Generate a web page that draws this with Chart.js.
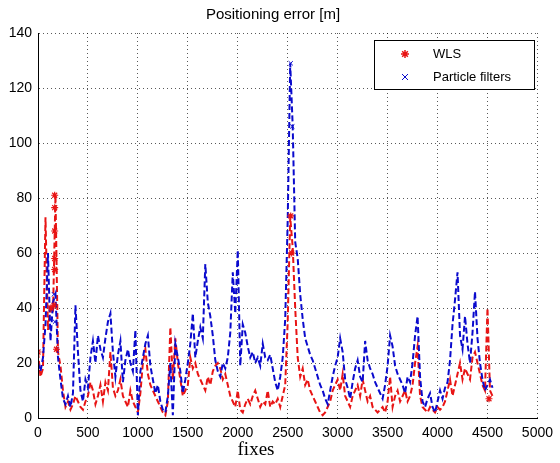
<!DOCTYPE html>
<html>
<head>
<meta charset="utf-8">
<script src="https://cdn.jsdelivr.net/npm/chart.js@4"></script>
<style>
  html, body { margin: 0; padding: 0; background: #fff; }
  #wrap { width: 560px; height: 463px; }
</style>
</head>
<body>
<div id="wrap"><canvas id="chart" width="560" height="463"></canvas></div>
<script>
// fixes sampled every 25
const fixes = [
    0, 25, 50, 75, 100, 125, 150, 175, 200, 225, 250, 275, 300, 325, 350, 375, 400, 425, 450, 475,
    500, 525, 550, 575, 600, 625, 650, 675, 700, 725, 750, 775, 800, 825, 850, 875, 900, 925, 950, 975,
    1000, 1025, 1050, 1075, 1100, 1125, 1150, 1175, 1200, 1225, 1250, 1275, 1300, 1325, 1350, 1375, 1400, 1425, 1450, 1475,
    1500, 1525, 1550, 1575, 1600, 1625, 1650, 1675, 1700, 1725, 1750, 1775, 1800, 1825, 1850, 1875, 1900, 1925, 1950, 1975,
    2000, 2025, 2050, 2075, 2100, 2125, 2150, 2175, 2200, 2225, 2250, 2275, 2300, 2325, 2350, 2375, 2400, 2425, 2450, 2475,
    2500, 2525, 2550, 2575, 2600, 2625, 2650, 2675, 2700, 2725, 2750, 2775, 2800, 2825, 2850, 2875, 2900, 2925, 2950, 2975,
    3000, 3025, 3050, 3075, 3100, 3125, 3150, 3175, 3200, 3225, 3250, 3275, 3300, 3325, 3350, 3375, 3400, 3425, 3450, 3475,
    3500, 3525, 3550, 3575, 3600, 3625, 3650, 3675, 3700, 3725, 3750, 3775, 3800, 3825, 3850, 3875, 3900, 3925, 3950, 3975,
    4000, 4025, 4050, 4075, 4100, 4125, 4150, 4175, 4200, 4225, 4250, 4275, 4300, 4325, 4350, 4375, 4400, 4425, 4450, 4475,
    4500, 4525, 4550
];

// WLS positioning error [m]
const wls = [
    24, 15, 18, 73, 32, 41, 38, 81, 24, 19, 10, 4, 6, 3, 5, 8, 6, 4, 3, 6,
    8, 13, 10, 5, 8, 12, 6, 13, 10, 24, 11, 8, 10, 14, 8, 6, 4, 10, 6, 4,
    2, 9, 20, 25, 16, 12, 10, 8, 6, 4, 2, 1, 6, 33, 14, 29, 20, 14, 8, 10,
    12, 22, 18, 20, 16, 14, 12, 10, 15, 12, 17, 19, 20, 18, 14, 16, 12, 8, 6, 4,
    10, 3, 2, 5, 7, 5, 8, 10, 7, 4, 6, 5, 10, 4, 6, 5, 7, 4, 8, 12,
    35, 73, 62, 40, 22, 15, 18, 12, 14, 10, 8, 6, 4, 2, 1, 2, 4, 6, 10, 12,
    14, 10, 16, 8, 6, 4, 8, 10, 12, 8, 14, 10, 6, 8, 4, 3, 2, 3, 4, 2,
    6, 15, 4, 8, 10, 6, 8, 10, 6, 8, 12, 20, 26, 8, 4, 3, 2, 4, 3, 2,
    4, 3, 4, 6, 10, 14, 8, 12, 16, 20, 14, 18, 16, 14, 22, 24, 20, 16, 12, 10,
    40, 10, 8
];

// Particle filters positioning error [m]
const pf = [
    20, 17, 22, 34, 60, 28, 42, 45, 22, 14, 7, 5, 8, 4, 9, 41, 24, 10, 6, 14,
    11, 22, 28, 20, 30, 25, 22, 29, 35, 38, 24, 15, 23, 28, 13, 21, 25, 20, 17, 32,
    1, 17, 22, 27, 30, 19, 14, 9, 12, 6, 3, 2, 8, 20, 1, 27, 22, 17, 9, 14,
    20, 27, 38, 22, 28, 33, 29, 56, 42, 37, 30, 21, 17, 15, 20, 18, 22, 31, 53, 38,
    61, 19, 34, 31, 26, 22, 24, 20, 22, 19, 27, 22, 21, 23, 18, 13, 10, 15, 22, 36,
    72, 129, 106, 64, 58, 45, 36, 29, 26, 23, 21, 18, 15, 12, 10, 7, 5, 10, 15, 19,
    22, 29, 24, 14, 11, 7, 13, 18, 21, 15, 13, 28, 21, 18, 16, 13, 11, 9, 7, 12,
    19, 30, 26, 19, 16, 14, 12, 9, 15, 13, 20, 30, 37, 15, 6, 4, 7, 9, 4, 2,
    6, 10, 7, 11, 13, 21, 34, 43, 53, 30, 25, 37, 27, 20, 31, 46, 29, 20, 14, 10,
    12, 14, 11
];

// marker points
const wlsMarkX = [0, 130, 160, 167, 167, 167, 167, 167, 185, 2530, 2540, 4515];
const wlsMarkY = [24, 40, 41, 81, 76.5, 68, 58, 54, 25, 73.5, 60, 7];
const pfMarkX = [160, 170, 2530, 2546];
const pfMarkY = [45, 35, 129, 106];

const xTicks = [0, 500, 1000, 1500, 2000, 2500, 3000, 3500, 4000, 4500, 5000];
const yTicks = [0, 20, 40, 60, 80, 100, 120, 140];

const RED = 'rgb(232,20,20)';
const BLUE = 'rgb(10,10,205)';

const toPts = (xs, ys) => xs.map((x, i) => ({ x: x, y: ys[i] }));

const legendBox = {
    id: 'legendBox',
    afterDraw(chart) {
        const ctx = chart.ctx;
        ctx.save();
        // legend frame
        ctx.fillStyle = '#fff';
        ctx.fillRect(374, 40, 160, 49);
        ctx.strokeStyle = '#000';
        ctx.lineWidth = 1;
        ctx.strokeRect(374.5, 40.5, 160, 49);

        // star marker
        ctx.strokeStyle = RED;
        ctx.lineWidth = 1.5;
        const sx = 405, sy = 54, r = 4;
        ctx.beginPath();
        for (let k = 0; k < 4; k++) {
            const a = k * Math.PI / 4;
            ctx.moveTo(sx - r * Math.cos(a), sy - r * Math.sin(a));
            ctx.lineTo(sx + r * Math.cos(a), sy + r * Math.sin(a));
        }
        ctx.stroke();

        // x marker
        ctx.strokeStyle = BLUE;
        ctx.lineWidth = 1;
        const cx = 405, cy = 77, c = 3;
        ctx.beginPath();
        ctx.moveTo(cx - c, cy - c); ctx.lineTo(cx + c, cy + c);
        ctx.moveTo(cx + c, cy - c); ctx.lineTo(cx - c, cy + c);
        ctx.stroke();

        ctx.fillStyle = '#000';
        ctx.font = '13px "Liberation Sans", Arial, sans-serif';
        ctx.textBaseline = 'middle';
        ctx.textAlign = 'left';
        ctx.fillText('WLS', 433, 54);
        ctx.fillText('Particle filters', 433, 77);

        // x label
        ctx.font = '19px "Liberation Serif", "Times New Roman", serif';
        ctx.textAlign = 'center';
        ctx.fillText('fixes', 256, 450);
        ctx.restore();
    }
};

new Chart(document.getElementById('chart'), {
    type: 'line',
    data: {
        datasets: [
            {
                label: 'WLS markers',
                data: toPts(wlsMarkX, wlsMarkY),
                showLine: false,
                pointStyle: 'star',
                pointRadius: 3.5,
                borderColor: RED,
                borderWidth: 1.2,
                order: 0
            },
            {
                label: 'PF markers',
                data: toPts(pfMarkX, pfMarkY),
                showLine: false,
                pointStyle: 'crossRot',
                pointRadius: 3,
                borderColor: BLUE,
                borderWidth: 1,
                order: 0
            },
            {
                label: 'Particle filters',
                data: toPts(fixes, pf),
                borderColor: BLUE,
                borderWidth: 2,
                borderDash: [6, 3],
                pointRadius: 0,
                tension: 0,
                order: 1
            },
            {
                label: 'WLS',
                data: toPts(fixes, wls),
                borderColor: RED,
                borderWidth: 2,
                borderDash: [6, 3],
                pointRadius: 0,
                tension: 0,
                order: 2
            }
        ]
    },
    options: {
        responsive: false,
        animation: false,
        events: [],
        layout: { padding: { top: 0, right: 14, bottom: 0, left: 0 } },
        plugins: {
            legend: { display: false },
            tooltip: { enabled: false },
            title: {
                display: true,
                text: 'Positioning error [m]',
                color: '#000',
                font: { family: '"Liberation Sans", Arial, sans-serif', size: 15, weight: 'normal' },
                padding: { top: 6, bottom: 9 }
            }
        },
        scales: {
            x: {
                type: 'linear',
                min: 0,
                max: 5000,
                afterFit(scale) { scale.height = 45; },
                afterBuildTicks(scale) { scale.ticks = xTicks.map(v => ({ value: v })); },
                ticks: {
                    color: '#000',
                    padding: 7,
                    maxRotation: 0,
                    callback: v => String(v),
                    font: { family: '"Liberation Sans", Arial, sans-serif', size: 14 }
                },
                grid: {
                    color: 'rgba(0,0,0,0.65)',
                    lineWidth: 1,
                    drawTicks: false
                },
                border: { display: true, color: '#000', width: 1, dash: [1, 3] }
            },
            y: {
                min: 0,
                max: 140,
                afterFit(scale) { scale.width = 38; },
                afterBuildTicks(scale) { scale.ticks = yTicks.map(v => ({ value: v })); },
                ticks: {
                    color: '#000',
                    padding: 6,
                    callback: v => String(v),
                    font: { family: '"Liberation Sans", Arial, sans-serif', size: 14 }
                },
                grid: {
                    color: 'rgba(0,0,0,0.65)',
                    lineWidth: 1,
                    drawTicks: false
                },
                border: { display: true, color: '#000', width: 1, dash: [1, 3] }
            }
        }
    },
    plugins: [legendBox, {
        id: 'solidAxes',
        afterDatasetsDraw(chart) {
            const { ctx, chartArea: a } = chart;
            ctx.save();
            ctx.strokeStyle = '#000';
            ctx.lineWidth = 1;
            ctx.beginPath();
            ctx.moveTo(a.left + 0.5, a.top);
            ctx.lineTo(a.left + 0.5, a.bottom + 0.5);
            ctx.lineTo(a.right, a.bottom + 0.5);
            ctx.stroke();
            ctx.restore();
        }
    }]
});
</script>
</body>
</html>
